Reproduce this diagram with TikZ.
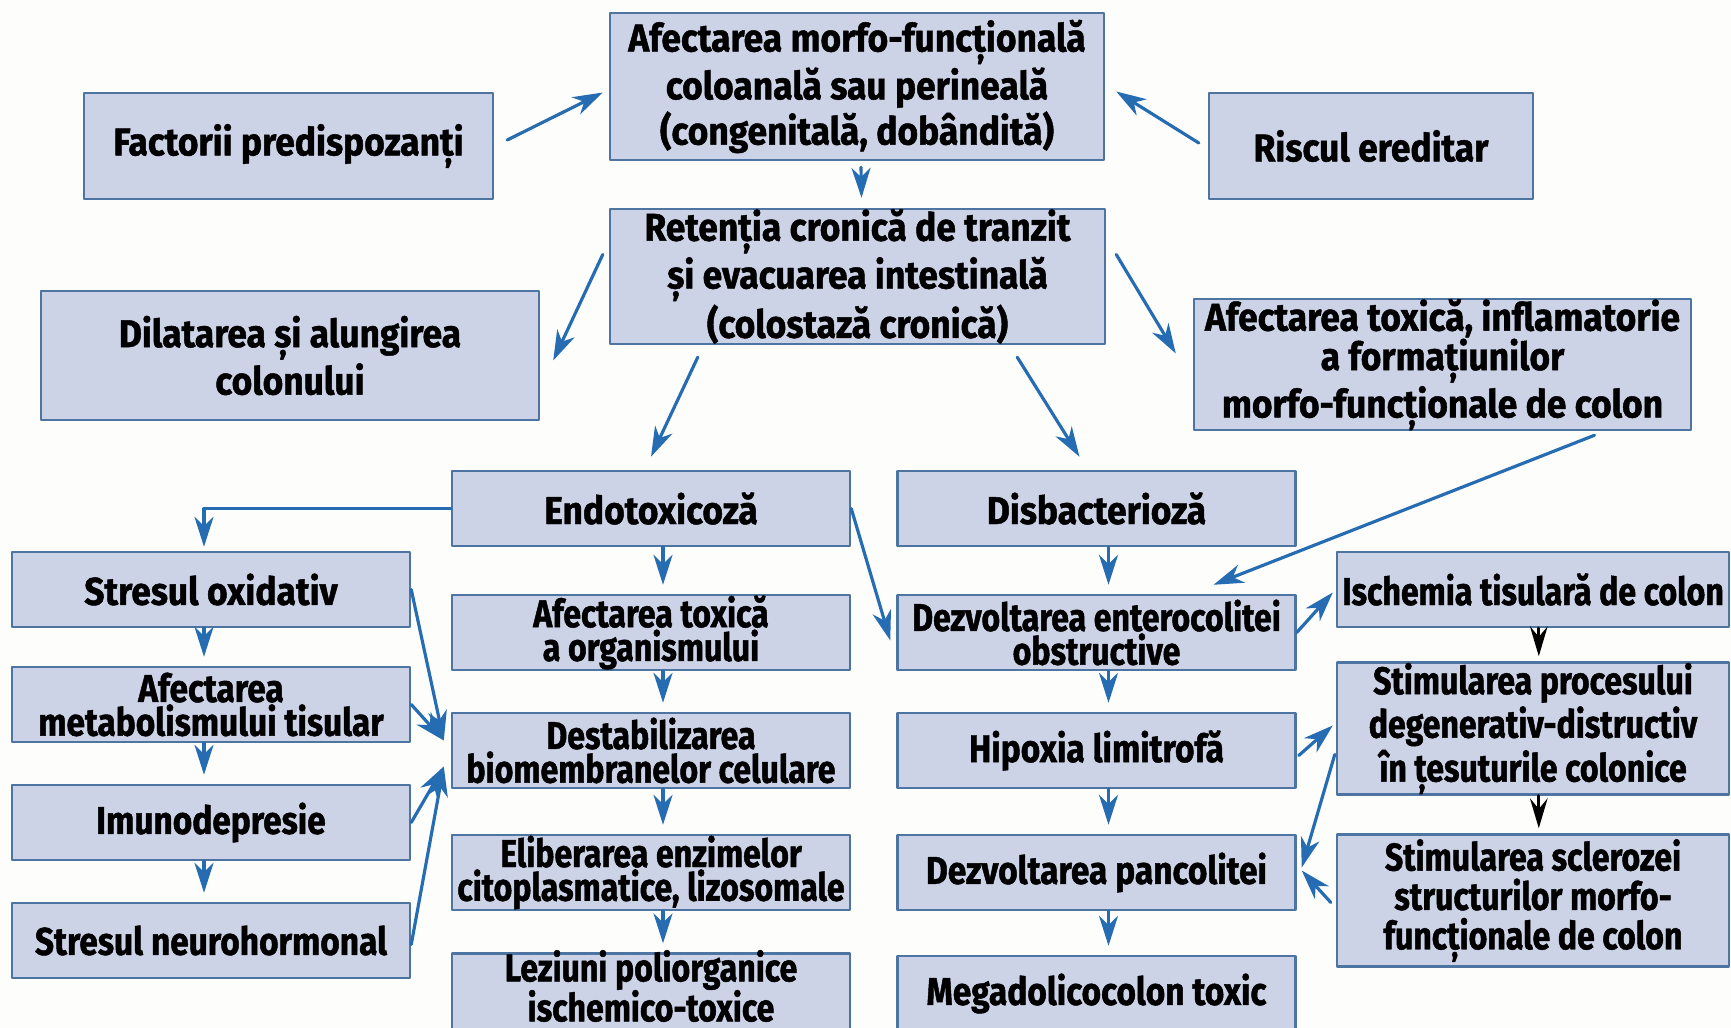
\documentclass[tikz,border=0pt]{standalone}
\usepackage{fontspec}
\setmainfont{Fira Sans}[FakeStretch=0.83,FakeBold=1.2]
\newfontfamily\fontwide{Fira Sans}[FakeStretch=0.915,FakeBold=1.2]
\newfontfamily\fontmid{Fira Sans}[FakeStretch=0.865,FakeBold=1.2]
\usetikzlibrary{positioning,calc,arrows.meta}

\definecolor{boxfill}{RGB}{205,211,231}
\definecolor{boxline}{RGB}{78,116,162}
\definecolor{arrowblue}{RGB}{38,108,178}
\definecolor{paper}{RGB}{253,253,251}

\begin{document}
\begin{tikzpicture}[
				x=0.1mm,y=-0.1mm,
				line cap=round,line join=round,
				box/.style={draw=boxline, fill=boxfill, line width=0.7pt, align=center,
					inner sep=0pt, font=\bfseries\fontsize{11}{9.6}\selectfont},
				wide/.style={font=\fontwide\bfseries\fontsize{11}{11.2}\selectfont},
				mid/.style={font=\fontmid\bfseries\fontsize{11}{9.6}\selectfont},
				tall/.style={font=\bfseries\fontsize{11}{11.2}\selectfont},
				sbox/.style={box, minimum width=39.8mm, minimum height=7.5mm},
				tbox/.style={box, tall, minimum width=39.2mm, minimum height=13.2mm},
				link/.style={arrowblue, line width=0.9pt, -{Stealth[length=8.5pt,width=5.4pt,inset=2.6pt]}},
				blink/.style={black, line width=0.9pt, -{Stealth[length=8.5pt,width=5pt,inset=3pt]}}
				]
				% ---- page
				\fill[paper] (0,0) rectangle (1731,1028);
				\useasboundingbox (0,0) rectangle (1731,1028);
				
				% ---- parameters (column centres)
				\def\colA{211}
				\def\colB{651}
				\def\colC{1096.5}
				\def\colD{1533}
				
				% ---- upper part
				\node[box, wide, minimum width=49.4mm, minimum height=14.7mm] (top) at (857,86.5)
				{Afectarea morfo-funcțională\\coloanală sau perineală\\(congenitală, dobândită)};
				\node[box, wide, minimum width=40.9mm, minimum height=10.6mm] (fact) at (288.5,146) {Factorii predispozanți};
				\node[box, wide, minimum width=32.4mm, minimum height=10.6mm] (risc) at (1371,146) {Riscul ereditar};
				\node[box, wide, minimum width=49.5mm, minimum height=12.9mm] (ret) at (857.5,276.5)
				{Retenția cronică de tranzit\\și evacuarea intestinală\\(colostază cronică)};
				\node[box, wide, minimum width=49.8mm, minimum height=12.9mm] (dil) at (290,355.5) {Dilatarea și alungirea\\colonului};
				\node[box, wide, minimum width=49.7mm, minimum height=12.9mm] (aft) at (1442.5,364.5)
				{Afectarea toxică, inflamatorie\\a formațiunilor\\morfo-funcționale de colon};
				
				% ---- left column
				\node[sbox, wide] (sox) at (\colA,589.5) {Stresul oxidativ};
				\node[sbox, mid] (met) at (\colA,704.5) {Afectarea\\metabolismului tisular};
				\node[sbox, mid] (imu) at (\colA,822.5) {Imunodepresie};
				\node[sbox, mid] (neu) at (\colA,940.5) {Stresul neurohormonal};
				
				% ---- endotoxicosis column
				\node[sbox, wide] (endo) at (\colB,508.5) {Endotoxicoză};
				\node[sbox] (afo) at (\colB,632.5) {Afectarea toxică\\a organismului};
				\node[sbox] (des) at (\colB,750.5) {Destabilizarea\\biomembranelor celulare};
				\node[sbox] (eli) at (\colB,872.5) {Eliberarea enzimelor\\citoplasmatice, lizosomale};
				\node[sbox] (lez) at (\colB,993.5)
				{\raisebox{1pt}[\height][\depth]{\def\arraystretch{0.85}\begin{tabular}{@{}c@{}}Leziuni poliorganice\\ischemico-toxice\end{tabular}}};
				
				% ---- dysbacteriosis column
				\node[sbox, wide] (dis) at (\colC,508.5) {Disbacterioză};
				\node[sbox] (ent) at (\colC,632.5) {Dezvoltarea enterocolitei\\obstructive};
				\node[sbox, mid] (hip) at (\colC,750.5) {Hipoxia limitrofă};
				\node[sbox, mid] (pan) at (\colC,872.5) {Dezvoltarea pancolitei};
				\node[sbox, mid] (meg) at (\colC,993.5) {Megadolicocolon toxic};
				
				% ---- right column
				\node[box, minimum width=39.2mm, minimum height=7.5mm] (isc) at (\colD,589.5) {Ischemia tisulară de colon};
				\node[tbox] (sp) at (\colD,728.5) {Stimularea procesului\\degenerativ-distructiv\\în țesuturile colonice};
				\node[tbox] (ssc) at (\colD,900.5) {Stimularea sclerozei\\structurilor morfo-\\funcționale de colon};
				
				% ---- upper arrows
				\draw[link] ($(fact.east)+(13,-6)$) -- ($(top.west)+(-6,6)$);
				\draw[link] ($(risc.west)+(-9,-3)$) -- ($(top.east)+(11,5)$);
				\draw[link] ($(top.south)+(4,6)$) -- ($(ret.north)+(4,-10)$);
				\draw[link] ($(ret.west)+(-6,-22)$) -- ($(dil.east)+(13,5)$);
				\draw[link] ($(ret.south west)+(89,12)$) -- ($(endo.north)+(0,-13)$);
				\draw[link] ($(ret.south east)+(-89,12)$) -- ($(dis.north)+(-17,-13)$);
				\draw[link] ($(ret.east)+(10,-22)$) -- ($(aft.west)+(-17,-11)$);
				
				% ---- column chains
				\foreach \a/\b in {endo/afo,afo/des,des/eli,eli/lez,dis/ent,ent/hip,hip/pan,pan/meg}{
					\draw[link] ($(\a.south)+(12,0)$) -- ($(\b.north)+(12,-9)$);
				}
				\foreach \a/\b in {sox/met,met/imu,imu/neu}{
					\draw[link] ($(\a.south)+(-7,0)$) -- ($(\b.north)+(-7,-9)$);
				}
				\draw[blink] ($(isc.south west)+(203,0)$) -- ($(sp.north west)+(203,-5)$);
				\draw[blink] ($(sp.south west)+(203,0)$) -- ($(ssc.north west)+(203,-5)$);
				
				% ---- cross links
				\draw[link] (endo.west) -| ($(sox.north)+(-7,-4)$);
				\draw[link] (endo.east) -- ($(ent.west)+(-6,8)$);
				\draw[link] ($(aft.south)+(152,4)$) -- ($(ent.north)+(117,-9)$);
				\draw[link] (ent.east) -- ($(isc.west)+(-3,3)$);
				\draw[link] ($(hip.east)+(2,5)$) -- ($(sp.west)+(-3,-3)$);
				\draw[link] ($(sp.west)+(-1,26)$) -- ($(pan.east)+(5,-5)$);
				\draw[link] ($(ssc.west)+(-5,2)$) -- ($(pan.east)+(5,-2)$);
				
				% converging arrows into the membranes box
				\coordinate (tipA) at ($(des.west)+(-7,-10)$);
				\coordinate (tipB) at ($(des.west)+(-7,16)$);
				\draw[link] (sox.east) -- (tipA);
				\draw[link] (met.east) -- (tipA);
				\draw[link] (imu.east) -- (tipB);
				\draw[link] ($(neu.east)+(0,4)$) -- (tipB);
			\end{tikzpicture}
\end{document}
